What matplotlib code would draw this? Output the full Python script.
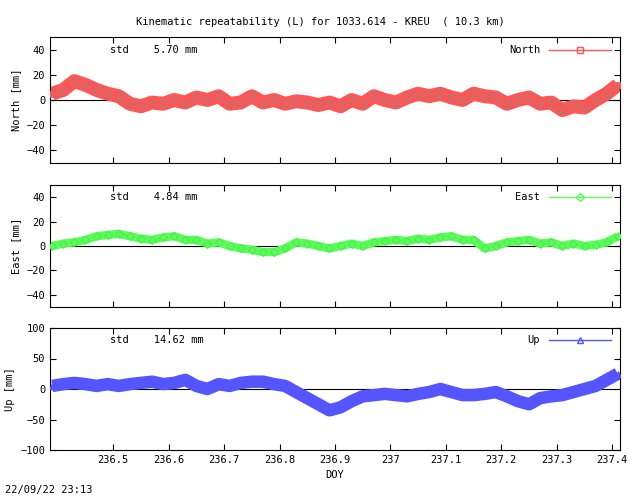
import matplotlib.pyplot as plt

doy = [236.39, 236.41, 236.43, 236.45, 236.47, 236.49, 236.51, 236.53, 236.55, 236.57,
       236.59, 236.61, 236.63, 236.65, 236.67, 236.69, 236.71, 236.73, 236.75, 236.77,
       236.79, 236.81, 236.83, 236.85, 236.87, 236.89, 236.91, 236.93, 236.95, 236.97,
       236.99, 237.01, 237.03, 237.05, 237.07, 237.09, 237.11, 237.13, 237.15, 237.17,
       237.19, 237.21, 237.23, 237.25, 237.27, 237.29, 237.31, 237.33, 237.35, 237.37,
       237.39, 237.41]
north = [5, 8, 15, 12, 8, 5, 3, -3, -5, -2, -3, 0, -2, 2, 0, 3, -3, -2, 3, -2,
         0, -3, -1, -2, -4, -2, -5, 0, -3, 3, 0, -2, 2, 5, 3, 5, 2, 0, 5, 3,
         2, -3, 0, 2, -3, -2, -8, -5, -6, 0, 5, 12]
east = [0, 2, 3, 5, 8, 9, 10, 8, 6, 5, 7, 8, 5, 5, 2, 3, 0, -2, -3, -5,
        -5, -2, 3, 2, 0, -2, 0, 2, 0, 3, 4, 5, 4, 6, 5, 7, 8, 5, 5, -2,
        0, 3, 4, 5, 2, 3, 0, 2, 0, 1, 3, 8]
up = [5, 8, 10, 8, 5, 8, 5, 8, 10, 12, 8, 10, 15, 5, 0, 8, 5, 10, 12, 12,
      8, 5, -5, -15, -25, -35, -30, -20, -12, -10, -8, -10, -12, -8, -5, 0, -5, -10, -10, -8,
      -5, -12, -20, -25, -15, -12, -10, -5, 0, 5, 15, 25]
names = ['North', 'East', 'Up']
stds = ['5.70', '4.84', '14.62']
ylims = [(-50, 50), (-50, 50), (-100, 100)]
yticks = [[-40, -20, 0, 20, 40], [-40, -20, 0, 20, 40], [-100, -50, 0, 50, 100]]
xticks = [236.5, 236.6, 236.7, 236.8, 236.9, 237.0, 237.1, 237.2, 237.3, 237.4]
xlabels = ['236.5', '236.6', '236.7', '236.8', '236.9', '237', '237.1', '237.2', '237.3', '237.4']

plt.rcParams['font.family'] = 'DejaVu Sans Mono'
plt.rcParams['font.size'] = 7.5

fig = plt.figure(figsize=(6.4, 4.96), dpi=100)
W, H = 640, 496
boxes = [(37, 163), (185, 307), (328, 450)]
cols = [('#ff5555', '#888888', 's', 10), ('#55ff55', '#55dd55', 'D', 6), ('#5555ff', '#5555ff', '^', 9)]

for i, series in enumerate([north, east, up]):
    top, bot = boxes[i]
    ax = fig.add_axes([50 / W, 1 - bot / H, 570 / W, (bot - top) / H])
    face, edge, mk, lw = cols[i]
    ax.plot(doy, series, color=face, lw=lw, solid_capstyle='butt', zorder=2)
    ax.plot(doy, series, ls='none', marker=mk, ms=4, mfc=face, mec=edge, mew=0.6, zorder=3)
    ax.axhline(0, color='black', lw=0.8, zorder=1)
    ax.set_xlim(236.386, 237.414)
    ax.set_ylim(*ylims[i])
    ax.set_yticks(yticks[i])
    ax.set_xticks(xticks)
    ax.set_xticklabels(xlabels if i == 2 else [])
    ax.tick_params(direction='in', length=4, top=True, right=True)
    ax.set_ylabel(f'{names[i]} [mm]')
    ax.text(0.105, 0.9, f'std    {stds[i]} mm', transform=ax.transAxes, ha='left', va='center')
    ax.text(0.86, 0.9, names[i], transform=ax.transAxes, ha='right', va='center')
    ax.plot([0.875, 0.985], [0.9, 0.9], transform=ax.transAxes, color=face, lw=1)
    ax.plot([0.93], [0.9], transform=ax.transAxes, marker=mk, ms=4, mfc='none', mec=face)
    if i == 2:
        ax.set_xlabel('DOY')

fig.text(0.5, 1 - 22 / H, 'Kinematic repeatability (L) for 1033.614 - KREU  ( 10.3 km)',
         ha='center', va='center')
fig.text(5 / W, 1 - 490 / H, '22/09/22 23:13', ha='left', va='center')
fig.savefig('out.png', dpi=100)
